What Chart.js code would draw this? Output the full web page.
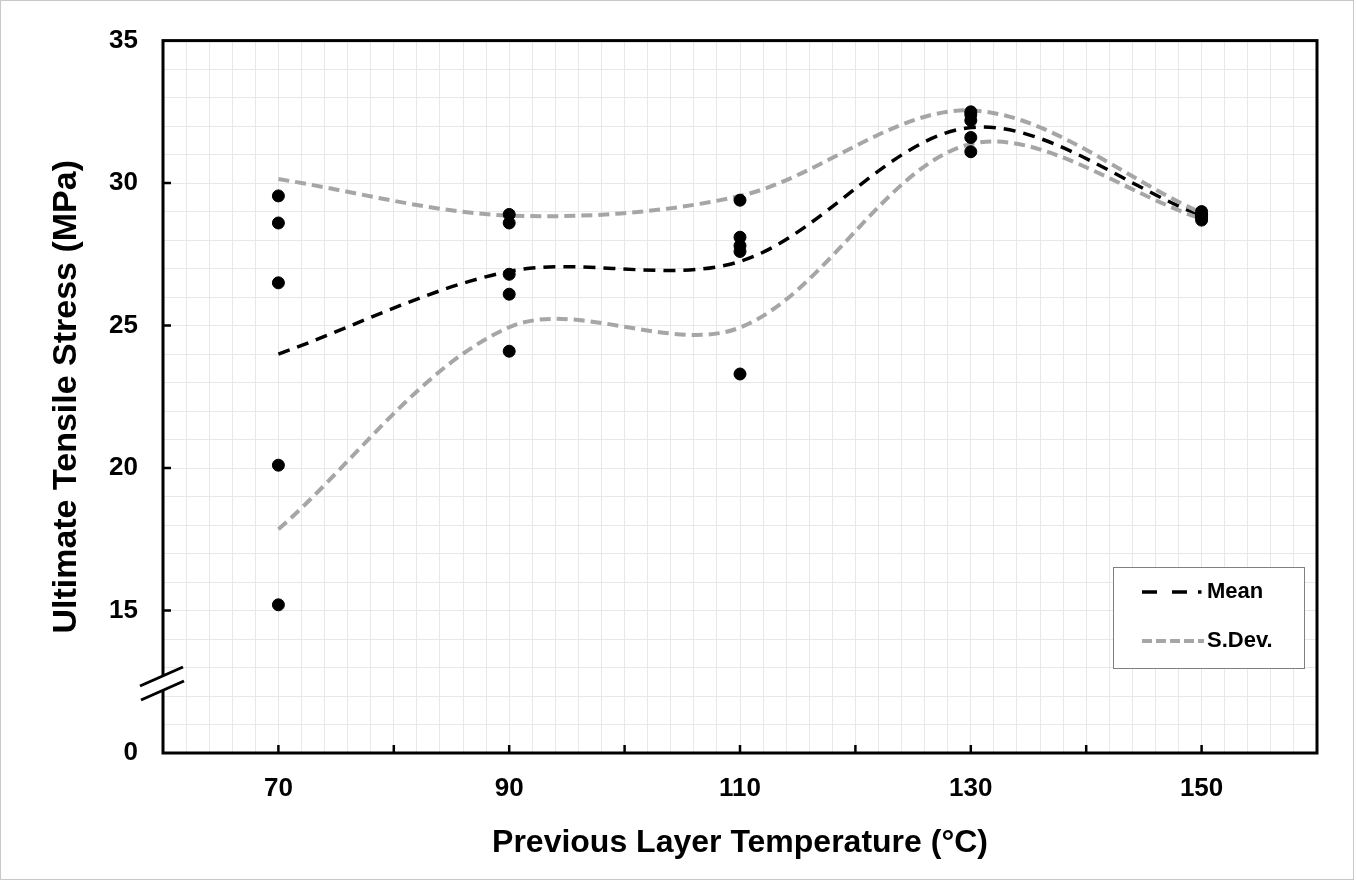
<!DOCTYPE html>
<html>
<head>
<meta charset="utf-8">
<title>Ultimate Tensile Stress vs Previous Layer Temperature</title>
<script src="https://cdn.jsdelivr.net/npm/chart.js@4/dist/chart.umd.min.js"></script>
<style>
  html, body { margin: 0; padding: 0; background: #fff; }
  canvas { display: block; }
</style>
</head>
<body>
<canvas id="chart" width="1357" height="881"></canvas>
<script>
// specimen results, five tests per temperature
const temperatures = [70, 90, 110, 130, 150];
const stress70 = [29.55, 28.6, 26.5, 20.1, 15.2];
const stress90 = [28.9, 28.6, 26.8, 26.1, 24.1];
const stress110 = [29.4, 28.1, 27.8, 27.6, 23.3];
const stress130 = [32.5, 32.4, 32.2, 31.6, 31.1];
const stress150 = [29.0, 28.9, 28.85, 28.8, 28.7];

// mean and mean +/- standard deviation at each temperature
const meanStress = [24.0, 26.9, 27.25, 31.95, 28.85];
const upperStress = [30.14, 28.86, 29.55, 32.55, 28.95];
const lowerStress = [17.85, 24.94, 24.93, 31.37, 28.75];

const xTickLabels = [70, 90, 110, 130, 150];
const xTickMarks = [70, 80, 90, 100, 110, 120, 130, 140, 150];
const yTickValues = [10, 15, 20, 25, 30, 35];
const yTickText = ['0', '15', '20', '25', '30', '35'];

const FONT = "'Liberation Sans', Arial, sans-serif";
const GREY = '#a6a6a6';

const stressGroups = [stress70, stress90, stress110, stress130, stress150];
const scatterPoints = [];
stressGroups.forEach((group, i) => {
    group.forEach(v => scatterPoints.push({ x: temperatures[i], y: v }));
});

const toXY = values => values.map((v, i) => ({ x: temperatures[i], y: v }));

// box, inward ticks, axis break, legend
const framePlugin = {
    id: 'frame',
    beforeDraw(chart) {
        const ctx = chart.ctx;
        ctx.save();
        ctx.fillStyle = '#fff';
        ctx.fillRect(0, 0, chart.width, chart.height);
        ctx.restore();
    },
    afterDatasetsDraw(chart) {
        const ctx = chart.ctx;
        const { left, right, top, bottom } = chart.chartArea;
        const xs = chart.scales.x;
        const ys = chart.scales.y;
        ctx.save();

        // outer picture frame
        ctx.strokeStyle = '#c8c8c8';
        ctx.lineWidth = 1;
        ctx.strokeRect(0.5, 0.5, 1353, 879);

        // plot box
        ctx.strokeStyle = '#000';
        ctx.lineWidth = 3;
        ctx.strokeRect(left, top, right - left, bottom - top);

        // inward tick marks
        ctx.lineWidth = 2.5;
        ctx.beginPath();
        xTickMarks.forEach(v => {
            const px = xs.getPixelForValue(v);
            ctx.moveTo(px, bottom);
            ctx.lineTo(px, bottom - 8);
        });
        yTickValues.slice(1, -1).forEach(v => {
            const py = ys.getPixelForValue(v);
            ctx.moveTo(left, py);
            ctx.lineTo(left + 8, py);
        });
        ctx.stroke();

        // axis break between 10 and 15
        const b1 = [[140, 686], [183, 667]];
        const b2 = [[141, 700], [184, 681]];
        ctx.fillStyle = '#fff';
        ctx.beginPath();
        ctx.moveTo(b1[0][0], b1[0][1]);
        ctx.lineTo(b1[1][0], b1[1][1]);
        ctx.lineTo(b2[1][0], b2[1][1]);
        ctx.lineTo(b2[0][0], b2[0][1]);
        ctx.closePath();
        ctx.fill();
        ctx.lineWidth = 3;
        ctx.beginPath();
        ctx.moveTo(b1[0][0], b1[0][1]);
        ctx.lineTo(b1[1][0], b1[1][1]);
        ctx.moveTo(b2[0][0], b2[0][1]);
        ctx.lineTo(b2[1][0], b2[1][1]);
        ctx.stroke();

        // legend
        ctx.fillStyle = '#fff';
        ctx.fillRect(1113, 567, 191, 101);
        ctx.strokeStyle = '#808080';
        ctx.lineWidth = 1;
        ctx.strokeRect(1113.5, 567.5, 191, 101);

        ctx.strokeStyle = '#000';
        ctx.lineWidth = 3.5;
        ctx.setLineDash([15, 15, 15, 11, 3.5, 100]);
        ctx.beginPath();
        ctx.moveTo(1142, 592);
        ctx.lineTo(1202, 592);
        ctx.stroke();

        ctx.strokeStyle = GREY;
        ctx.lineWidth = 4;
        ctx.setLineDash([10, 4]);
        ctx.beginPath();
        ctx.moveTo(1142, 641);
        ctx.lineTo(1204, 641);
        ctx.stroke();
        ctx.setLineDash([]);

        ctx.fillStyle = '#000';
        ctx.font = 'bold 22px ' + FONT;
        ctx.textBaseline = 'middle';
        ctx.textAlign = 'left';
        ctx.fillText('Mean', 1207, 592);
        ctx.fillText('S.Dev.', 1207, 641);
        ctx.restore();
    }
};

const ctx = document.getElementById('chart').getContext('2d');
const chart = new Chart(ctx, {
    type: 'scatter',
    data: {
        datasets: [
            {
                label: 'Tests',
                data: scatterPoints,
                backgroundColor: '#000',
                borderColor: '#000',
                pointRadius: 6,
                order: 0
            },
            {
                label: 'Mean',
                type: 'line',
                data: toXY(meanStress),
                borderColor: '#000',
                borderWidth: 3.5,
                borderDash: [12, 8],
                pointRadius: 0,
                tension: 0.33,
                fill: false,
                order: 2
            },
            {
                label: 'S.Dev.',
                type: 'line',
                data: toXY(upperStress),
                borderColor: GREY,
                borderWidth: 4,
                borderDash: [11, 6],
                pointRadius: 0,
                tension: 0.33,
                fill: false,
                order: 1
            },
            {
                label: 'S.Dev. low',
                type: 'line',
                data: toXY(lowerStress),
                borderColor: GREY,
                borderWidth: 4,
                borderDash: [11, 6],
                pointRadius: 0,
                tension: 0.33,
                fill: false,
                order: 1
            }
        ]
    },
    options: {
        responsive: false,
        animation: false,
        layout: { padding: { top: 37, right: 40, left: 0, bottom: 0 } },
        plugins: {
            legend: { display: false },
            tooltip: { enabled: false }
        },
        scales: {
            x: {
                type: 'linear',
                min: 60,
                max: 160,
                afterFit: s => { s.height = 128; },
                grid: { color: '#e8e8e8', lineWidth: 1, drawTicks: false },
                border: { display: false },
                ticks: {
                    stepSize: 2,
                    autoSkip: false,
                    maxRotation: 0,
                    padding: 20,
                    color: '#000',
                    font: { family: FONT, size: 26, weight: 'bold' },
                    callback: v => xTickLabels.includes(v) ? String(v) : ''
                },
                title: {
                    display: true,
                    text: 'Previous Layer Temperature (°C)',
                    color: '#000',
                    font: { family: FONT, size: 32, weight: 'bold' },
                    padding: { top: 0, bottom: 19 }
                }
            },
            y: {
                type: 'linear',
                min: 10,
                max: 35,
                afterFit: s => { s.width = 163; },
                grid: { color: '#e8e8e8', lineWidth: 1, drawTicks: false },
                border: { display: false },
                ticks: {
                    stepSize: 1,
                    autoSkip: false,
                    padding: 25,
                    color: '#000',
                    font: { family: FONT, size: 26, weight: 'bold' },
                    callback: v => {
                        const i = yTickValues.indexOf(v);
                        return i >= 0 ? yTickText[i] : '';
                    }
                },
                title: {
                    display: true,
                    text: 'Ultimate Tensile Stress (MPa)',
                    color: '#000',
                    font: { family: FONT, size: 34, weight: 'bold' },
                    padding: { top: 46, bottom: 0 }
                }
            }
        }
    },
    plugins: [framePlugin]
});
</script>
</body>
</html>
